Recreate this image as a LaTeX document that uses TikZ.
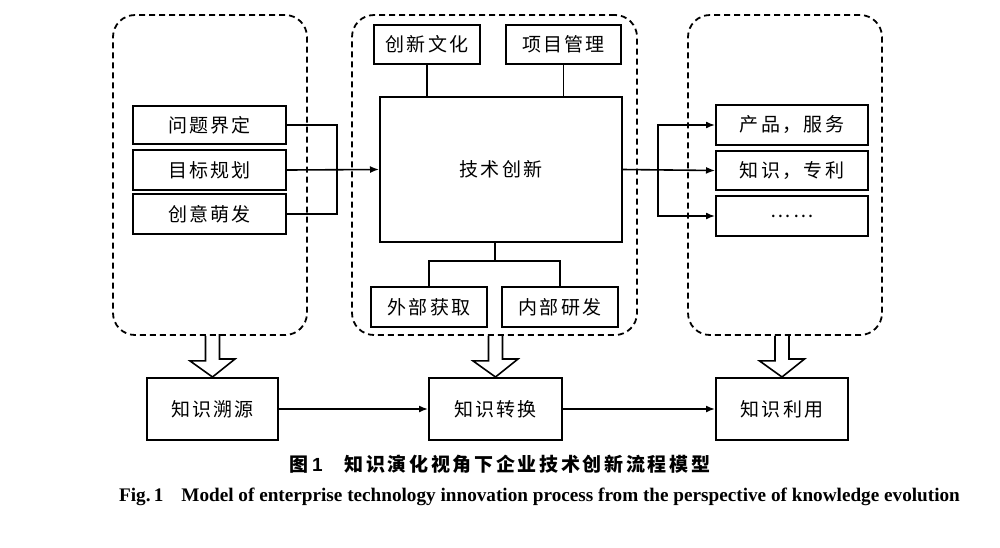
\documentclass[tikz,border=0pt]{standalone}
\usepackage{fontspec}
\setmainfont{Liberation Serif}
\newfontfamily\cjk[LetterSpace=12]{Noto Sans CJK SC}
\newfontfamily\cjkcap[LetterSpace=14]{Noto Sans CJK SC}
\usetikzlibrary{arrows.meta,calc}
\begin{document}
\begin{tikzpicture}[x=1pt,y=-1pt,
  bx/.style={draw, line width=2pt, inner sep=0pt, font=\cjk\fontsize{19}{19}\selectfont},
  dbox/.style={draw, dashed, dash pattern=on 6pt off 4pt, line width=1.8pt, rounded corners=22pt, inner sep=0pt},
  conn/.style={line width=1.6pt},
  arr/.style={conn, -{Latex[length=9pt,width=7pt]}},
  blk/.style={line width=1.6pt, line join=miter}]
\useasboundingbox (0,0) rectangle (1000,547);
\fill[white] (0,0) rectangle (1000,547);

% dashed groups
\node[dbox, minimum width=194pt, minimum height=320pt] (L) at (210,175) {};
\node[dbox, minimum width=285pt, minimum height=320pt] (M) at (494.5,175) {};
\node[dbox, minimum width=194pt, minimum height=320pt] (R) at (785,175) {};

% left boxes
\node[bx, minimum width=153pt, minimum height=38pt] (A1) at (209.5,125) {问题界定};
\node[bx, minimum width=153pt, minimum height=40pt] (A2) at (209.5,170) {目标规划};
\node[bx, minimum width=153pt, minimum height=40pt] (A3) at (209.5,214) {创意萌发};

% centre
\node[bx, minimum width=242pt, minimum height=145pt] (T) at (501,169.5) {技术创新};
\node[bx, minimum width=106pt, minimum height=39pt] (C1) at (427,44.5) {创新文化};
\node[bx, minimum width=115pt, minimum height=39pt] (C2) at (563.5,44.5) {项目管理};
\node[bx, minimum width=116pt, minimum height=40pt] (D1) at (429,307) {外部获取};
\node[bx, minimum width=116pt, minimum height=40pt] (D2) at (560,307) {内部研发};

% right boxes
\node[bx, minimum width=152pt, minimum height=40pt] (R1) at (792,125) {产品，服务};
\node[bx, minimum width=152pt, minimum height=39pt] (R2) at (792,170.5) {知识，专利};
\node[bx, minimum width=152pt, minimum height=40pt] (R3) at (792,216) {……};

% bottom row
\node[bx, minimum width=131pt, minimum height=62pt] (K1) at (212.5,409) {知识溯源};
\node[bx, minimum width=133pt, minimum height=62pt] (K2) at (495.5,409) {知识转换};
\node[bx, minimum width=132pt, minimum height=62pt] (K3) at (782,409) {知识利用};

% left connectors
\coordinate (lj) at (337,170);
\draw[conn] (A1.east) -| (lj) |- (A3.east);
\draw[arr] (A2.east) -- (T.west);

% top connectors
\draw[conn] (C1.south) -- (C1.south |- T.north);
\draw[conn] (C2.south) -- (C2.south |- T.north);

% bottom tree
\coordinate (bj) at (495,261);
\draw[conn] (bj |- T.south) -- (bj);
\draw[conn] (D1.north) -- (D1.north |- bj) -- (D2.north |- bj) -- (D2.north);

% right connectors
\coordinate (rj) at (658,170);
\draw[arr] (T.east) -- (R2.west);
\draw[arr] (rj) |- (R1.west);
\draw[arr] (rj) |- (R3.west);

% block arrows
\foreach \src/\dst in {L/K1, M/K2, R/K3}{
  \draw[blk] ($(\dst.north |- \src.south)+(-7,0)$) -- ++(0,25) -- ++(-15.5,0)
     -- (\dst.north) -- ++(22.5,-18) -- ++(-15.5,0) -- ++(0,-25);
}

% bottom arrows
\draw[arr] (K1.east) -- (K2.west);
\draw[arr] (K2.east) -- (K3.west);

% captions
\node[font=\cjkcap\bfseries\fontsize{19}{19}\selectfont, inner sep=0pt] (cap1) at (500,464)
  {图\,{\fontspec{Liberation Sans}\bfseries 1}\hspace{22pt}知识演化视角下企业技术创新流程模型};
\node[font=\bfseries\fontsize{19.2}{20}\selectfont, inner sep=0pt] (cap2) at (539.5,497)
  {Fig.\,1\hspace{18pt}Model of enterprise technology innovation process from the perspective of knowledge evolution};
\end{tikzpicture}
\end{document}
